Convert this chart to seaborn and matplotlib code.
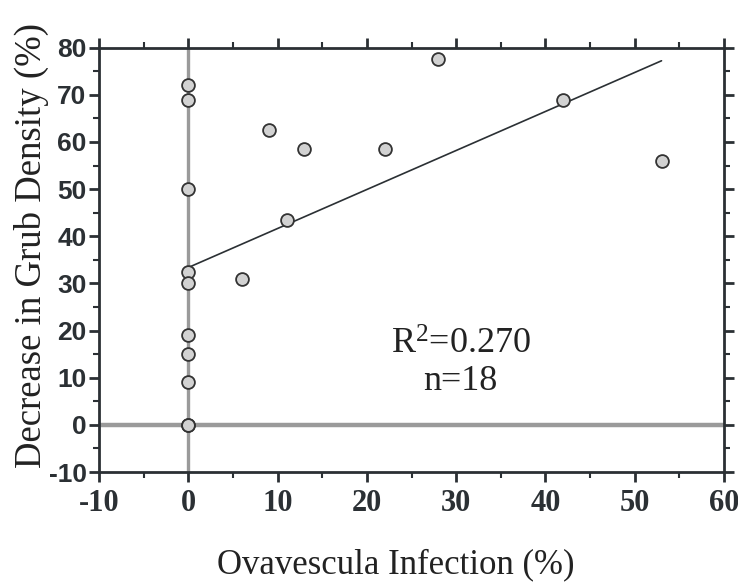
import matplotlib
matplotlib.use("Agg")
import matplotlib.pyplot as plt
import seaborn as sns
import pandas as pd
from matplotlib.ticker import MultipleLocator

infection = [0, 0, 0, 0, 0, 0, 0, 0, 0, 0, 6, 9, 11, 13, 22, 28, 42, 53]
decrease = [72, 69, 50, 32.5, 30, 19, 15, 9, 0, 0, 31, 62.5, 43.5, 58.5, 58.5, 77.5, 69, 56]
x_ticks = [-10, 0, 10, 20, 30, 40, 50, 60]
y_ticks = [-10, 0, 10, 20, 30, 40, 50, 60, 70, 80]
stats_text = ["R$^{2}$=0.270", "n=18"]

sns.set_theme(style="white")
plt.rcParams['mathtext.fontset'] = 'custom'
plt.rcParams['mathtext.rm'] = 'Liberation Serif'
plt.rcParams['mathtext.it'] = 'Liberation Serif'
plt.rcParams['mathtext.default'] = 'regular'

df = pd.DataFrame({"infection": infection, "decrease": decrease})

fig = plt.figure(figsize=(7.38, 5.85), dpi=100)
ax = fig.add_axes([99/738, 1-472/585, (724-99)/738, (472-47.7)/585])

dark = "#2b3034"
ax.axhline(0, color="#9a9a9a", lw=3.2, zorder=1)
ax.axvline(0, color="#9a9a9a", lw=2.4, zorder=1)

sns.regplot(data=df, x="infection", y="decrease", ax=ax, ci=None,
            scatter_kws=dict(s=85, color="#d2d2d2", edgecolor="#333333", linewidths=1.3, zorder=3, alpha=1),
            line_kws=dict(color=dark, lw=1.2, zorder=2))

ax.set_xlim(-10, 60)
ax.set_ylim(-10, 80)
ax.set_xticks(x_ticks)
ax.set_yticks(y_ticks)
ax.xaxis.set_minor_locator(MultipleLocator(5))
ax.yaxis.set_minor_locator(MultipleLocator(5))
ax.set_xlabel("")
ax.set_ylabel("")

for s in ax.spines.values():
    s.set_color(dark)
    s.set_linewidth(2)
    s.set_visible(True)

ax.tick_params(which="both", direction="out", color=dark, top=True, right=True,
               bottom=True, left=True, labeltop=False, labelright=False)
ax.tick_params(which="major", length=7, width=2)
ax.tick_params(which="minor", length=4, width=1.5)

ax.set_xticklabels([str(v) for v in x_ticks], fontfamily="Liberation Serif",
                   fontweight="bold", fontsize=22, color=dark)
ax.set_yticklabels([str(v) for v in y_ticks], fontfamily="Liberation Sans",
                   fontweight="bold", fontsize=19, color=dark)
ax.tick_params(axis="x", which="major", pad=5)
ax.tick_params(axis="y", which="major", pad=2)

ax.text(30.5, 16.8, stats_text[0], fontfamily="Liberation Serif", fontsize=26,
        color="#222222", ha="center", va="center")
ax.text(30.5, 9.3, stats_text[1], fontfamily="Liberation Serif", fontsize=26,
        color="#222222", ha="center", va="center")

fig.text(217/738, 1-565/585, "Ovavescula Infection (%)", fontfamily="Liberation Serif",
         fontsize=25, color="#222222", ha="left", va="center")
fig.text(31/738, 1-468/585, "Decrease in Grub Density (%)", fontfamily="Liberation Serif",
         fontsize=26.5, color="#222222", rotation=90, ha="center", va="bottom")

fig.savefig("out.png", dpi=100)
